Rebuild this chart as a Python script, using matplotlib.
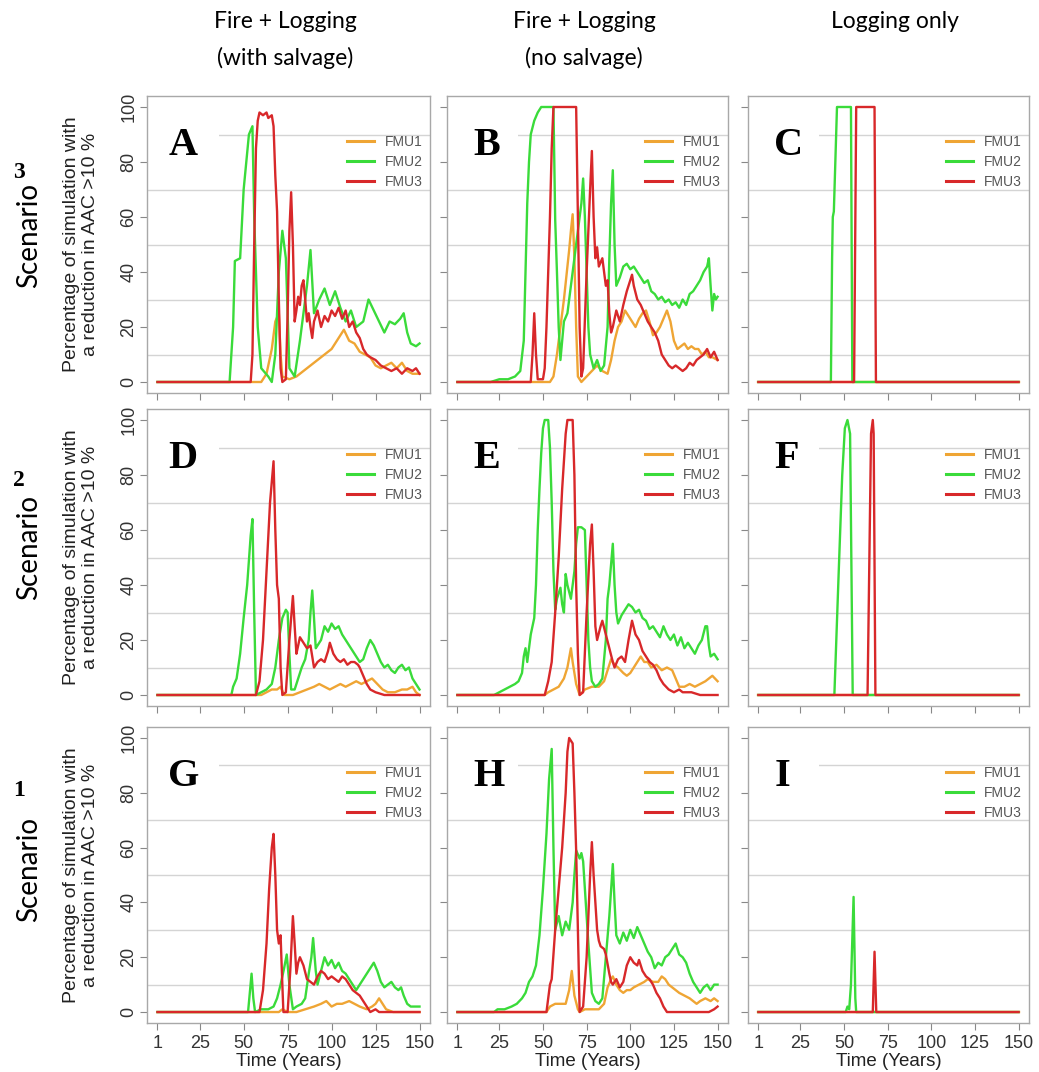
import matplotlib
matplotlib.use("Agg")
import matplotlib.pyplot as plt
from matplotlib.patches import Rectangle

# (year, % of simulations)
A_FMU1 = [(1,0),(60,0),(63,3),(66,12),(68,22),(70,25),(71,10),(72,2),(76,1),(80,2),(84,4),(88,6),(92,8),(96,10),(100,12),(104,16),(107,19),(110,15),(113,14),(116,11),(119,10),(122,9),(125,6),(128,5),(131,6),(134,7),(137,5),(140,7),(143,4),(146,3),(150,3)]
A_FMU2 = [(1,0),(42,0),(44,20),(45,44),(48,45),(50,70),(53,90),(55,93),(56,60),(58,20),(60,5),(64,2),(66,0),(68,10),(70,40),(72,55),(74,45),(76,5),(79,2),(82,15),(84,25),(86,35),(88,48),(90,25),(93,30),(96,34),(99,28),(102,33),(105,27),(108,22),(111,26),(114,20),(118,22),(121,30),(124,26),(127,22),(130,18),(133,22),(136,21),(139,23),(141,25),(143,18),(145,14),(148,13),(150,14)]
A_FMU3 = [(1,0),(54,0),(55,10),(56,50),(57,85),(58,95),(59,98),(61,97),(63,98),(64,96),(66,97),(67,93),(68,75),(69,62),(70,30),(71,5),(72,0),(74,1),(75,25),(76,55),(77,69),(78,50),(79,22),(80,26),(81,31),(82,28),(83,35),(84,37),(85,30),(86,22),(87,25),(88,20),(89,16),(90,22),(92,26),(94,20),(96,24),(98,22),(100,26),(102,24),(104,27),(106,23),(108,26),(110,20),(112,22),(114,18),(116,16),(118,12),(120,10),(122,9),(125,8),(128,6),(131,5),(134,4),(137,5),(140,3),(143,5),(146,4),(148,5),(150,3)]

B_FMU1 = [(1,0),(54,0),(56,2),(58,10),(60,20),(62,30),(63,36),(65,48),(66,55),(67,61),(68,45),(69,20),(70,2),(72,0),(75,2),(78,4),(81,6),(84,4),(87,3),(89,8),(91,15),(93,20),(95,22),(97,26),(99,24),(101,22),(103,20),(105,23),(107,25),(109,26),(111,22),(113,17),(115,18),(117,20),(119,23),(121,26),(123,22),(125,15),(127,12),(129,13),(131,14),(133,12),(135,13),(137,12),(139,12),(141,10),(143,11),(145,9),(147,9),(150,8)]
B_FMU2 = [(1,0),(20,0),(25,1),(30,1),(34,2),(37,4),(39,15),(40,40),(41,65),(42,80),(43,90),(45,95),(47,98),(49,100),(56,100),(57,59),(58,40),(59,20),(60,8),(61,15),(62,22),(64,25),(66,35),(68,45),(70,55),(72,65),(73,74),(74,60),(75,40),(76,20),(77,10),(79,5),(81,8),(83,4),(85,6),(87,20),(88,45),(89,65),(90,77),(91,50),(92,35),(94,38),(96,42),(98,43),(100,41),(102,42),(104,40),(106,38),(108,36),(110,37),(112,33),(114,32),(116,30),(118,31),(120,29),(122,30),(124,28),(126,29),(128,27),(130,30),(132,28),(134,32),(136,33),(138,35),(140,37),(142,40),(144,42),(145,45),(146,35),(147,26),(148,32),(149,30),(150,31)]
B_FMU3 = [(1,0),(43,0),(44,10),(45,25),(46,10),(47,1),(50,1),(51,5),(52,20),(53,40),(54,60),(55,85),(56,100),(69,100),(70,60),(71,20),(72,2),(73,5),(75,40),(77,70),(78,84),(79,60),(80,45),(81,49),(82,42),(84,45),(85,40),(86,35),(87,37),(88,25),(89,18),(90,20),(92,26),(94,22),(96,28),(98,33),(100,37),(101,39),(102,35),(104,30),(106,28),(108,25),(110,22),(112,20),(114,18),(116,15),(118,10),(120,8),(122,6),(124,5),(126,6),(128,5),(130,4),(132,5),(134,7),(136,6),(138,8),(140,9),(142,10),(144,12),(146,9),(148,11),(150,8)]

C_FMU1 = [(1,0),(150,0)]
C_FMU2 = [(1,0),(42.5,0),(43.2,45),(43.6,60),(44.2,62),(46,100),(54,100),(54.8,0),(150,0)]
C_FMU3 = [(1,0),(55.8,0),(57,100),(67.5,100),(68.3,0),(150,0)]

D_FMU1 = [(1,0),(60,0),(63,1),(66,2),(69,2),(71,3),(73,0),(78,0),(82,1),(86,2),(90,3),(93,4),(96,3),(99,2),(102,3),(105,4),(108,3),(111,4),(114,5),(117,4),(120,5),(123,6),(126,4),(129,2),(132,1),(136,1),(140,2),(143,2),(146,3),(148,1),(150,0)]
D_FMU2 = [(1,0),(43,0),(44,3),(46,6),(48,15),(50,28),(52,40),(54,58),(55,64),(56,30),(57,0),(60,1),(63,2),(66,4),(68,10),(70,20),(72,28),(74,31),(75,30),(76,15),(77,2),(79,2),(81,6),(83,10),(85,13),(87,20),(88,30),(89,38),(90,28),(91,17),(92,18),(94,20),(96,25),(98,23),(100,26),(102,24),(104,25),(106,22),(108,20),(110,18),(112,16),(114,14),(116,12),(118,13),(120,17),(122,20),(124,18),(126,15),(128,12),(130,10),(132,11),(134,9),(136,8),(138,10),(140,11),(142,9),(144,10),(146,6),(148,4),(150,2)]
D_FMU3 = [(1,0),(57,0),(59,5),(61,20),(63,45),(65,70),(67,85),(68,60),(69,40),(70,35),(71,10),(72,0),(74,1),(76,20),(78,36),(79,25),(80,15),(81,18),(82,21),(84,19),(86,17),(88,18),(89,14),(90,10),(92,12),(94,13),(96,12),(98,16),(99,19),(101,15),(103,13),(105,12),(107,13),(109,11),(111,12),(113,12),(115,11),(116,10),(118,7),(120,4),(122,2),(125,1),(130,0),(150,0)]

E_FMU1 = [(1,0),(51,0),(53,1),(56,2),(59,3),(62,6),(64,10),(66,17),(67,12),(69,4),(71,0),(74,2),(78,3),(82,3),(85,5),(87,9),(89,13),(91,11),(93,10),(96,8),(98,7),(100,8),(103,11),(106,14),(108,12),(110,12),(112,10),(115,11),(118,9),(121,10),(124,9),(126,6),(128,3),(131,3),(134,4),(137,3),(140,4),(143,5),(145,6),(147,7),(150,5)]
E_FMU2 = [(1,0),(22,0),(25,1),(28,2),(31,3),(34,4),(36,5),(38,8),(39,14),(40,17),(41,12),(43,22),(45,28),(46,40),(47,60),(48,75),(49,88),(50,97),(51,100),(53,100),(54,90),(55,70),(56,45),(57,31),(58,35),(60,39),(61,33),(62,30),(63,44),(64,40),(66,35),(68,45),(69,55),(70,61),(72,61),(74,60),(75,40),(76,20),(77,10),(78,5),(80,3),(82,4),(84,6),(86,20),(87,35),(88,40),(90,55),(91,40),(92,30),(93,26),(95,29),(97,31),(99,33),(101,32),(103,30),(105,31),(107,28),(109,27),(111,24),(113,25),(115,23),(117,21),(119,25),(121,22),(123,20),(125,22),(127,18),(129,21),(131,17),(133,19),(135,17),(137,15),(139,18),(141,20),(143,25),(144,25),(145,18),(146,14),(148,15),(150,13)]
E_FMU3 = [(1,0),(51,0),(53,5),(55,12),(57,30),(59,50),(61,75),(63,95),(64,100),(67,100),(68,80),(69,40),(70,15),(71,0),(73,1),(75,30),(77,55),(78,62),(79,45),(80,25),(81,20),(83,25),(84,27),(86,22),(88,17),(90,12),(91,10),(93,13),(95,14),(97,12),(99,20),(101,27),(103,22),(105,20),(107,16),(109,14),(111,12),(113,11),(115,9),(117,6),(119,4),(122,2),(125,1),(128,2),(130,1),(135,1),(140,0),(150,0)]

F_FMU1 = [(1,0),(150,0)]
F_FMU2 = [(1,0),(44.5,0),(47,45),(49,80),(50.5,97),(52,100),(53.5,95),(55,0),(150,0)]
F_FMU3 = [(1,0),(63.5,0),(65.5,95),(66.5,100),(67,95),(68,0),(150,0)]

G_FMU1 = [(1,0),(70,0),(72,1),(75,0),(80,0),(85,1),(90,2),(94,3),(97,4),(100,2),(103,3),(106,3),(110,4),(113,3),(116,2),(120,1),(123,2),(125,3),(127,5),(129,3),(131,1),(135,0),(150,0)]
G_FMU2 = [(1,0),(52.5,0),(54.5,14),(55.5,5),(56.5,0),(60,1),(64,1),(67,2),(69,5),(71,10),(73,16),(74.5,21),(76,10),(78,1),(80,2),(83,3),(85,5),(87,14),(88.5,20),(89.5,27),(91,15),(92,10),(94,15),(96,20),(98,17),(100,19),(102,16),(104,18),(106,15),(108,14),(110,12),(112,10),(114,8),(116,10),(118,12),(120,14),(122,16),(124,18),(126,15),(128,11),(130,9),(132,10),(134,11),(136,9),(138,8),(139.5,9),(141,6),(143,3),(145,2),(148,2),(150,2)]
G_FMU3 = [(1,0),(59,0),(61,8),(63,25),(64.5,45),(66,60),(67,65),(68,50),(69,30),(70,25),(71,28),(72,10),(72.6,0),(75,0),(76.5,15),(78,35),(79,25),(80,14),(81,18),(82,20),(84,17),(86,12),(88,11),(90,10),(92,13),(94,15),(96,14),(98,12),(100,13),(102,12),(104,11),(106,13),(108,12),(110,10),(112,8),(114,7),(116,6),(118,4),(120,2),(122,0),(125,1),(127,0),(150,0)]

H_FMU1 = [(1,0),(52,0),(54,2),(57,3),(60,3),(63,3),(65,8),(66.5,15),(68,6),(70,1),(71,0),(74,1),(78,1),(82,1),(85,3),(87,9),(89,12),(90,13),(92,10),(94,8),(96,7),(98,8),(100,8),(102,9),(105,10),(108,11),(110,12),(113,11),(116,11),(118,13),(120,12),(122,10),(124,9),(126,8),(128,7),(131,6),(134,5),(136,4),(138,3),(140,4),(143,5),(146,4),(148,5),(150,4)]
H_FMU2 = [(1,0),(22,0),(24,1),(28,1),(32,2),(35,3),(38,5),(40,7),(42,11),(44,13),(46,17),(48,28),(50,45),(52,65),(53.5,85),(55,96),(56,60),(57,30),(59,35),(61,28),(63,33),(65,30),(67,40),(68,50),(69,59),(71,56),(72,58),(73,55),(74,45),(76,25),(78,7),(80,4),(82,3),(84,5),(86,20),(88,35),(90,54),(91,40),(92,28),(94,25),(96,29),(98,26),(100,30),(102,27),(104,31),(106,28),(108,25),(110,22),(112,20),(114,16),(116,18),(118,17),(120,20),(122,21),(124,23),(126,25),(128,21),(130,20),(132,18),(134,14),(136,11),(138,9),(140,7),(142,9),(144,10),(146,8),(148,10),(150,10)]
H_FMU3 = [(1,0),(52,0),(54,10),(55,12),(57,30),(59,45),(61,60),(63,80),(64,95),(65,100),(67,98),(68,80),(69,59),(70,30),(71,0),(73,2),(75,20),(77,50),(78,62),(79,50),(80,40),(81,30),(82,26),(83,24),(85,23),(86,21),(88,14),(89,11),(90,10),(92,12),(94,9),(96,11),(98,17),(100,20),(102,18),(104,17),(105,19),(107,15),(109,13),(111,12),(113,10),(115,7),(117,5),(119,2),(121,0),(125,0),(130,0),(145,0),(148,1),(150,2)]

I_FMU1 = [(1,0),(150,0)]
I_FMU2 = [(1,0),(51,0),(52,2),(53,1),(54,10),(55.5,42),(56.5,5),(57,0),(150,0)]
I_FMU3 = [(1,0),(66.5,0),(67.5,22),(68.5,0),(150,0)]

panel_letters = ["A", "B", "C", "D", "E", "F", "G", "H", "I"]
panel_series = [
    (A_FMU1, A_FMU2, A_FMU3), (B_FMU1, B_FMU2, B_FMU3), (C_FMU1, C_FMU2, C_FMU3),
    (D_FMU1, D_FMU2, D_FMU3), (E_FMU1, E_FMU2, E_FMU3), (F_FMU1, F_FMU2, F_FMU3),
    (G_FMU1, G_FMU2, G_FMU3), (H_FMU1, H_FMU2, H_FMU3), (I_FMU1, I_FMU2, I_FMU3),
]
fmu_names = ["FMU1", "FMU2", "FMU3"]
fmu_colors = ["#EFA534", "#3ADB3A", "#D8282A"]
col_titles = [("Fire + Logging", "(with salvage)"), ("Fire + Logging", "(no salvage)"), ("Logging only", None)]
scenario_numbers = ["3", "2", "1"]
x_ticks = [1, 25, 50, 75, 100, 125, 150]
y_ticks = [0, 20, 40, 60, 80, 100]
grid_levels = [10, 30, 50, 70, 90]

W, H = 1039, 1072
col_left = [147, 447, 748]
col_width = [283, 281, 281]
row_top = [96, 409, 727]
row_height = [297, 297, 296]


def px_box(left, top, w, h):
    return [left / W, 1 - (top + h) / H, w / W, h / H]


def draw_panel(ax, series, letter, show_xlabels, show_ylabels):
    for y in grid_levels:
        ax.axhline(y, color="#d4d4d4", lw=1.0, zorder=0.5)
    # white patch behind the panel letter hides the grid there
    ax.add_patch(Rectangle((0.004, 0.74), 0.25, 0.22, transform=ax.transAxes,
                           facecolor="white", edgecolor="none", zorder=1))
    for pts, name, color in zip(series, fmu_names, fmu_colors):
        yrs = [p[0] for p in pts]
        vals = [p[1] for p in pts]
        ax.plot(yrs, vals, color=color, lw=1.7, label=name, zorder=2)
    ax.set_xlim(1 - 0.04 * 149, 150 + 0.04 * 149)
    ax.set_ylim(-4, 104)
    ax.set_xticks(x_ticks)
    ax.set_yticks(y_ticks)
    ax.tick_params(colors="#888888", length=5, width=0.8, labelcolor="#333333", labelsize=13)
    ax.tick_params(axis="y", pad=2)
    if not show_xlabels:
        ax.set_xticklabels([])
    else:
        ax.set_xlabel("Time (Years)", fontsize=13.5, color="#222222", labelpad=1)
    if not show_ylabels:
        ax.set_yticklabels([])
    else:
        for lab in ax.get_yticklabels():
            lab.set_rotation(90)
            lab.set_va("center")
    for sp in ax.spines.values():
        sp.set_color("#a8a8a8")
        sp.set_linewidth(1.0)
    ax.text(0.075 if show_ylabels else 0.093, 0.80, letter, transform=ax.transAxes,
            family="Liberation Serif", fontweight="bold", fontsize=29, zorder=3)
    leg = ax.legend(loc="upper right", bbox_to_anchor=(0.975, 0.868), frameon=False,
                    fontsize=10, handlelength=1.95, handletextpad=0.8,
                    labelspacing=0.42, borderpad=0, borderaxespad=0)
    for t in leg.get_texts():
        t.set_color("#555555")
    for ln in leg.get_lines():
        ln.set_linewidth(2.2)


plt.rcParams["font.family"] = ["Liberation Sans", "DejaVu Sans"]
fig = plt.figure(figsize=(W / 100, H / 100), dpi=100)

for r in range(3):
    for c in range(3):
        ax = fig.add_axes(px_box(col_left[c], row_top[r], col_width[c], row_height[r]))
        k = r * 3 + c
        draw_panel(ax, panel_series[k], panel_letters[k], show_xlabels=(r == 2), show_ylabels=(c == 0))

    mid = row_top[r] + row_height[r] / 2
    fig.text(81 / W, 1 - mid / H, "Percentage of simulation with\na reduction in AAC >10 %",
             rotation=90, ha="center", va="center", multialignment="center",
             fontsize=14, color="#222222", linespacing=1.1)

# scenario labels on the far left
scen_y = [236, 547, 870]
num_y = [172, 480, 790]
for r in range(3):
    fig.text(29 / W, 1 - scen_y[r] / H, "Scenario", rotation=90, ha="center", va="center",
             family="Lato", fontsize=20, color="#000000")
    fig.text(19 / W, 1 - num_y[r] / H, scenario_numbers[r], ha="center", va="center",
             family="Liberation Serif", fontweight="bold", fontsize=17, color="#000000")

title_x = [285, 584, 895]
for c, (l1, l2) in enumerate(col_titles):
    fig.text(title_x[c] / W, 1 - 22 / H, l1, ha="center", va="center", family="Lato",
             fontsize=16.5, color="#000000")
    if l2:
        fig.text(title_x[c] / W, 1 - 58 / H, l2, ha="center", va="center", family="Lato",
                 fontsize=16.5, color="#000000")

fig.savefig("out.png", dpi=100, facecolor="white")
